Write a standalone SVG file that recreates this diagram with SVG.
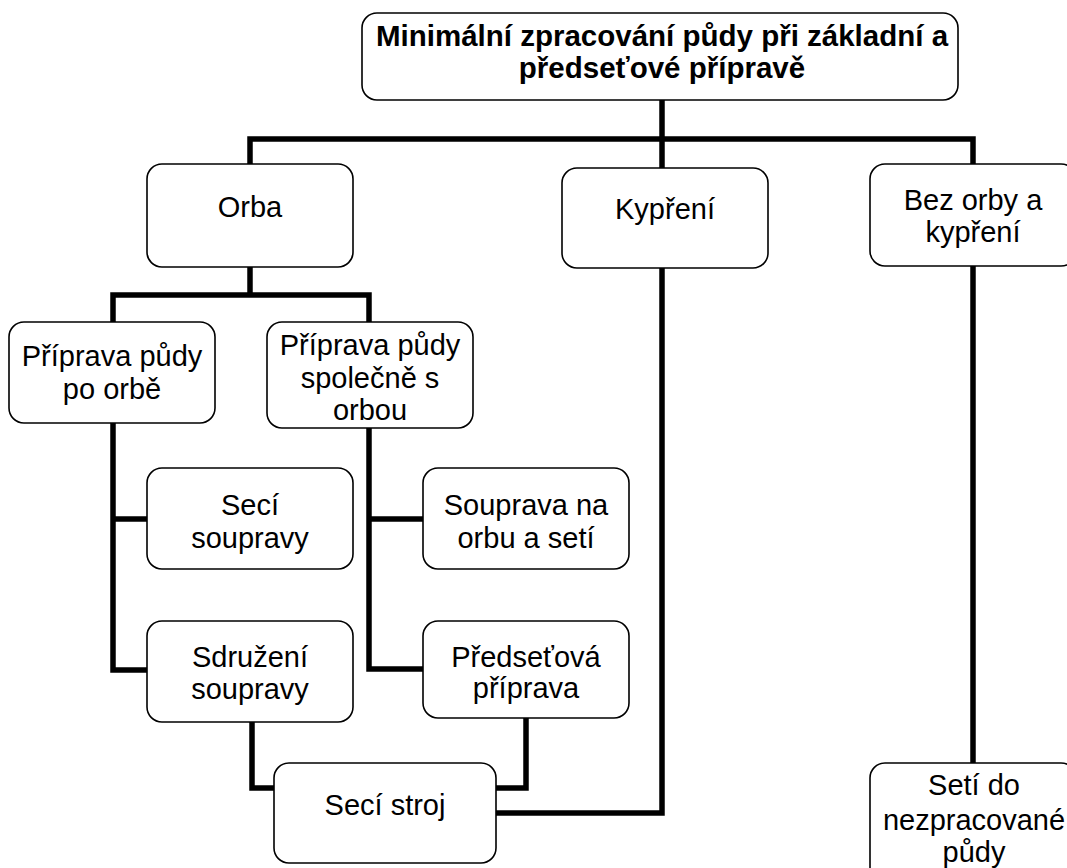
<svg xmlns="http://www.w3.org/2000/svg" width="1067" height="868" viewBox="0 0 1067 868">
<style>
.box{fill:#fff;stroke:#000;stroke-width:1.6}
.t{font-family:"Liberation Sans",Arial,sans-serif;font-size:29px;fill:#000;text-anchor:middle}
.b{font-weight:bold;font-size:29.5px}
.c{fill:none;stroke:#000;stroke-width:5.5;stroke-linejoin:miter;stroke-linecap:butt}
</style>
<rect width="1067" height="868" fill="#fff"/>
<g id="connectors">
<path class="c" d="M662,100 V168"/>
<path class="c" d="M250,164 V139 H973 V164"/>
<path class="c" d="M250,267 V295"/>
<path class="c" d="M113,322 V295 H369 V322"/>
<path class="c" d="M113,423 V670 H147"/>
<path class="c" d="M113,519 H147"/>
<path class="c" d="M369,428 V669 H423"/>
<path class="c" d="M369,519 H423"/>
<path class="c" d="M252,722 V788 H274"/>
<path class="c" d="M526,718 V788 H496"/>
<path class="c" d="M662,268 V813 H496"/>
<path class="c" d="M973,266 V763"/>
</g>
<g id="root">
<rect class="box" x="362" y="13" width="596" height="87" rx="15"/>
<text class="t b" x="662" y="46">Minimální zpracování půdy při základní a</text>
<text class="t b" x="662" y="78">předseťové přípravě</text>
</g>
<g id="orba">
<rect class="box" x="147" y="164" width="206" height="103" rx="15"/>
<text class="t" x="250" y="217">Orba</text>
</g>
<g id="kypreni">
<rect class="box" x="562" y="168" width="206" height="100" rx="15"/>
<text class="t" x="665" y="219">Kypření</text>
</g>
<g id="bez-orby">
<rect class="box" x="870" y="164" width="206" height="102" rx="15"/>
<text class="t" x="973" y="210">Bez orby a</text>
<text class="t" x="973" y="242">kypření</text>
</g>
<g id="priprava-po-orbe">
<rect class="box" x="9" y="322" width="206" height="101" rx="15"/>
<text class="t" x="112" y="366">Příprava půdy</text>
<text class="t" x="112" y="399">po orbě</text>
</g>
<g id="priprava-s-orbou">
<rect class="box" x="267" y="322" width="206" height="106" rx="15"/>
<text class="t" x="370" y="355">Příprava půdy</text>
<text class="t" x="370" y="388">společně s</text>
<text class="t" x="370" y="420">orbou</text>
</g>
<g id="seci-soupravy">
<rect class="box" x="147" y="468" width="206" height="101" rx="15"/>
<text class="t" x="250" y="515">Secí</text>
<text class="t" x="250" y="548">soupravy</text>
</g>
<g id="souprava-orba-seti">
<rect class="box" x="423" y="468" width="206" height="101" rx="15"/>
<text class="t" x="526" y="515">Souprava na</text>
<text class="t" x="526" y="548">orbu a setí</text>
</g>
<g id="sdruzeni-soupravy">
<rect class="box" x="147" y="621" width="206" height="101" rx="15"/>
<text class="t" x="250" y="667">Sdružení</text>
<text class="t" x="250" y="699">soupravy</text>
</g>
<g id="predsetova-priprava">
<rect class="box" x="423" y="621" width="206" height="97" rx="15"/>
<text class="t" x="526" y="667">Předseťová</text>
<text class="t" x="526" y="698">příprava</text>
</g>
<g id="seci-stroj">
<rect class="box" x="274" y="763" width="222" height="100" rx="15"/>
<text class="t" x="385" y="815">Secí stroj</text>
</g>
<g id="seti-do-nezpracovane">
<rect class="box" x="870" y="763" width="206" height="120" rx="15"/>
<text class="t" x="974" y="795">Setí do</text>
<text class="t" x="974" y="830">nezpracované</text>
<text class="t" x="974" y="862">půdy</text>
</g>
</svg>
